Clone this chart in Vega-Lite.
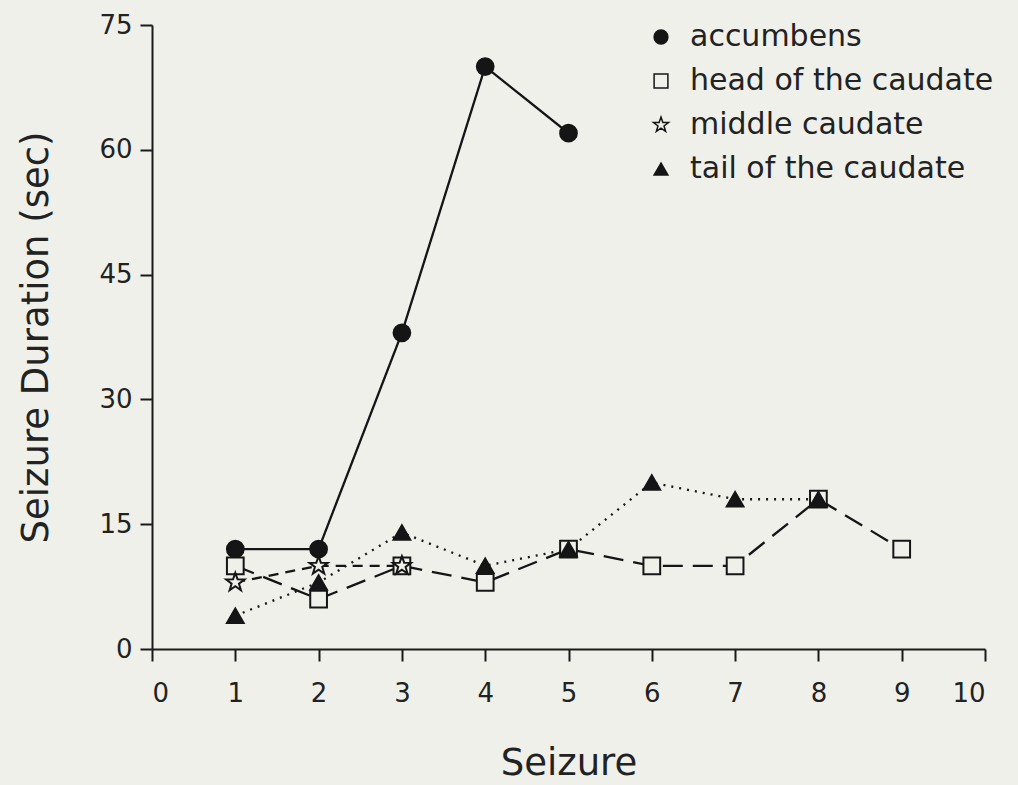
{
  "$schema": "https://vega.github.io/schema/vega-lite/v6.json",
  "width": 833,
  "height": 624,
  "autosize": {"type": "none"},
  "padding": {"left": 152, "top": 25, "right": 33, "bottom": 136},
  "background": "#f0f0eb",
  "config": {
    "view": {"stroke": null},
    "font": "DejaVu Sans",
    "axis": {
      "grid": false,
      "domainColor": "#1a1a1a",
      "domainWidth": 2,
      "tickColor": "#1a1a1a",
      "tickWidth": 2,
      "tickSize": 12,
      "labelFontSize": 26,
      "labelColor": "#222222",
      "titleFontSize": 37,
      "titleFontWeight": "normal",
      "titleColor": "#222222"
    },
    "legend": {
      "labelFontSize": 30,
      "labelColor": "#222222",
      "labelLimit": 500,
      "symbolSize": 190,
      "labelOffset": 14,
      "rowPadding": 14
    }
  },
  "resolve": {"legend": {"strokeDash": "independent"}},
  "data": {
    "values": [
      {"region": "accumbens", "seizure": 1, "duration": 12},
      {"region": "accumbens", "seizure": 2, "duration": 12},
      {"region": "accumbens", "seizure": 3, "duration": 38},
      {"region": "accumbens", "seizure": 4, "duration": 70},
      {"region": "accumbens", "seizure": 5, "duration": 62},
      {"region": "head of the caudate", "seizure": 1, "duration": 10},
      {"region": "head of the caudate", "seizure": 2, "duration": 6},
      {"region": "head of the caudate", "seizure": 3, "duration": 10},
      {"region": "head of the caudate", "seizure": 4, "duration": 8},
      {"region": "head of the caudate", "seizure": 5, "duration": 12},
      {"region": "head of the caudate", "seizure": 6, "duration": 10},
      {"region": "head of the caudate", "seizure": 7, "duration": 10},
      {"region": "head of the caudate", "seizure": 8, "duration": 18},
      {"region": "head of the caudate", "seizure": 9, "duration": 12},
      {"region": "middle caudate", "seizure": 1, "duration": 8},
      {"region": "middle caudate", "seizure": 2, "duration": 10},
      {"region": "middle caudate", "seizure": 3, "duration": 10},
      {"region": "tail of the caudate", "seizure": 1, "duration": 4},
      {"region": "tail of the caudate", "seizure": 2, "duration": 8},
      {"region": "tail of the caudate", "seizure": 3, "duration": 14},
      {"region": "tail of the caudate", "seizure": 4, "duration": 10},
      {"region": "tail of the caudate", "seizure": 5, "duration": 12},
      {"region": "tail of the caudate", "seizure": 6, "duration": 20},
      {"region": "tail of the caudate", "seizure": 7, "duration": 18},
      {"region": "tail of the caudate", "seizure": 8, "duration": 18}
    ]
  },
  "encoding": {
    "x": {
      "field": "seizure",
      "type": "quantitative",
      "scale": {"domain": [0, 10], "nice": false, "zero": false},
      "axis": {
        "values": [0, 1, 2, 3, 4, 5, 6, 7, 8, 9, 10],
        "labelPadding": 19,
        "title": "Seizure",
        "titleX": 416.5,
        "titleY": 125,
        "titleBaseline": "alphabetic",
        "titleAlign": "center"
      }
    },
    "y": {
      "field": "duration",
      "type": "quantitative",
      "scale": {"domain": [0, 75], "nice": false},
      "axis": {
        "values": [0, 15, 30, 45, 60, 75],
        "labelPadding": 8,
        "title": "Seizure Duration (sec)",
        "titleX": -105,
        "titleY": 312,
        "titleAngle": -90,
        "titleBaseline": "alphabetic",
        "titleAlign": "center"
      }
    }
  },
  "layer": [
    {
      "mark": {"type": "line", "strokeWidth": 2.3, "color": "#151515"},
      "encoding": {
        "detail": {"field": "region", "type": "nominal"},
        "strokeDash": {
          "field": "region",
          "type": "nominal",
          "scale": {
            "domain": ["accumbens", "head of the caudate", "middle caudate", "tail of the caudate"],
            "range": [[1, 0], [20, 10], [10, 7], [2, 6]]
          },
          "legend": null
        }
      }
    },
    {
      "mark": {"type": "point", "filled": true, "size": 280, "stroke": "#151515", "strokeWidth": 2, "opacity": 1},
      "encoding": {
        "shape": {
          "field": "region",
          "type": "nominal",
          "scale": {
            "domain": ["accumbens", "head of the caudate", "middle caudate", "tail of the caudate"],
            "range": ["circle", "square", "M0,-1.15L0.27,-0.372L1.094,-0.355L0.437,0.142L0.676,0.93L0,0.46L-0.676,0.93L-0.437,0.142L-1.094,-0.355L-0.27,-0.372Z", "triangle-up"]
          },
          "legend": {
            "orient": "none", "legendX": 494, "legendY": -3, "title": null,
            "encode": {"symbols": {"update": {"stroke": {"value": "#151515"}, "strokeWidth": {"value": 1.6}}}}
          }
        },
        "fill": {
          "field": "region",
          "type": "nominal",
          "scale": {
            "domain": ["accumbens", "head of the caudate", "middle caudate", "tail of the caudate"],
            "range": ["#151515", "#f0f0eb", "#f0f0eb", "#151515"]
          },
          "legend": {
            "orient": "none", "legendX": 494, "legendY": -3, "title": null,
            "encode": {"symbols": {"update": {"stroke": {"value": "#151515"}, "strokeWidth": {"value": 1.6}}}}
          }
        }
      }
    }
  ]
}
